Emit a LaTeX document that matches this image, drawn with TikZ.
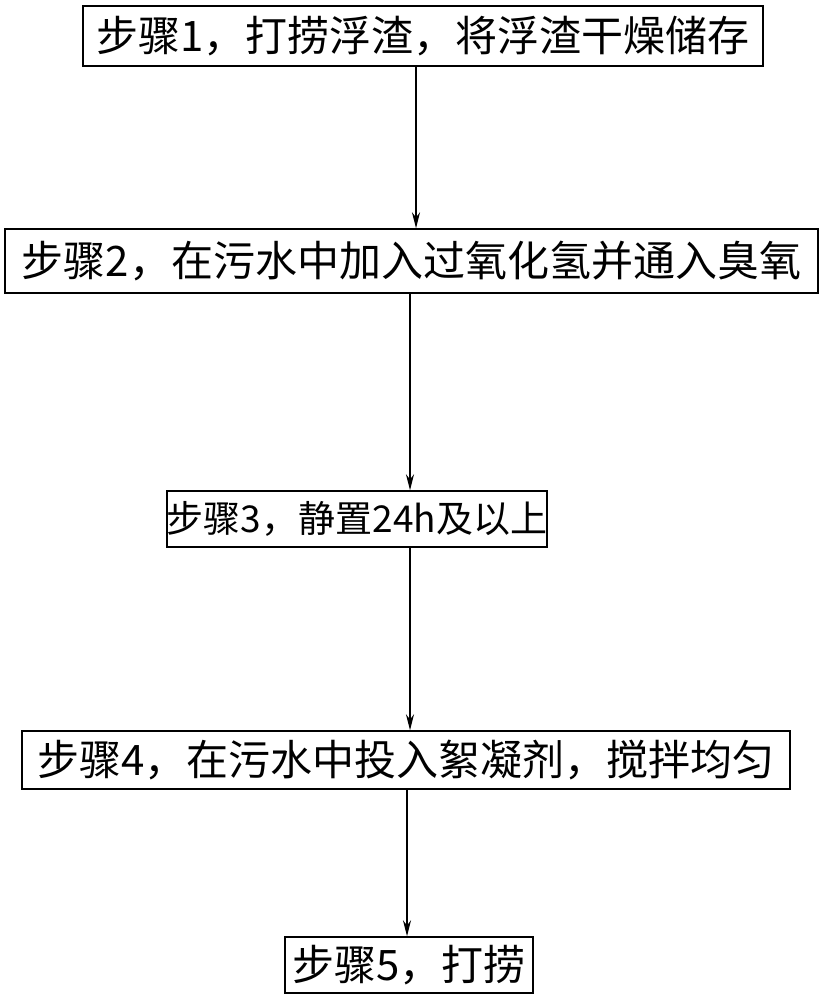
\documentclass[tikz,border=0pt]{standalone}
\usepackage{fontspec}
\setmainfont{Noto Sans CJK SC}
\usetikzlibrary{arrows.meta}
\begin{document}
\begin{tikzpicture}[x=1pt,y=-1pt,
  stepbox/.style={draw,line width=1.5pt,inner sep=0pt,font=\fontsize{42}{48}\selectfont},
  arr/.style={-{Stealth[length=16pt,width=8pt]},line width=1.2pt}]
\useasboundingbox (0,0) rectangle (824,1000);
\node[stepbox,minimum width=680,minimum height=60] (s1) at (423,36) {步骤1，打捞浮渣，将浮渣干燥储存};
\node[stepbox,minimum width=813,minimum height=64] (s2) at (411.5,261) {步骤2，在污水中加入过氧化氢并通入臭氧};
\node[stepbox,minimum width=342,minimum height=56,font=\fontsize{37}{44}\selectfont] (s3) at (357,519) {步骤3，静置24h及以上};
\node[stepbox,minimum width=768,minimum height=58] (s4) at (406,760) {步骤4，在污水中投入絮凝剂，搅拌均匀};
\node[stepbox,minimum width=248,minimum height=56] (s5) at (409,965) {步骤5，打捞};
\draw[arr] (s1.south -| 416,0) -- (s2.north -| 416,0);
\draw[arr] (s2.south -| 410,0) -- (s3.north -| 410,0);
\draw[arr] (s3.south -| 410,0) -- (s4.north -| 410,0);
\draw[arr] (s4.south -| 407,0) -- (s5.north -| 407,0);
\end{tikzpicture}
\end{document}
